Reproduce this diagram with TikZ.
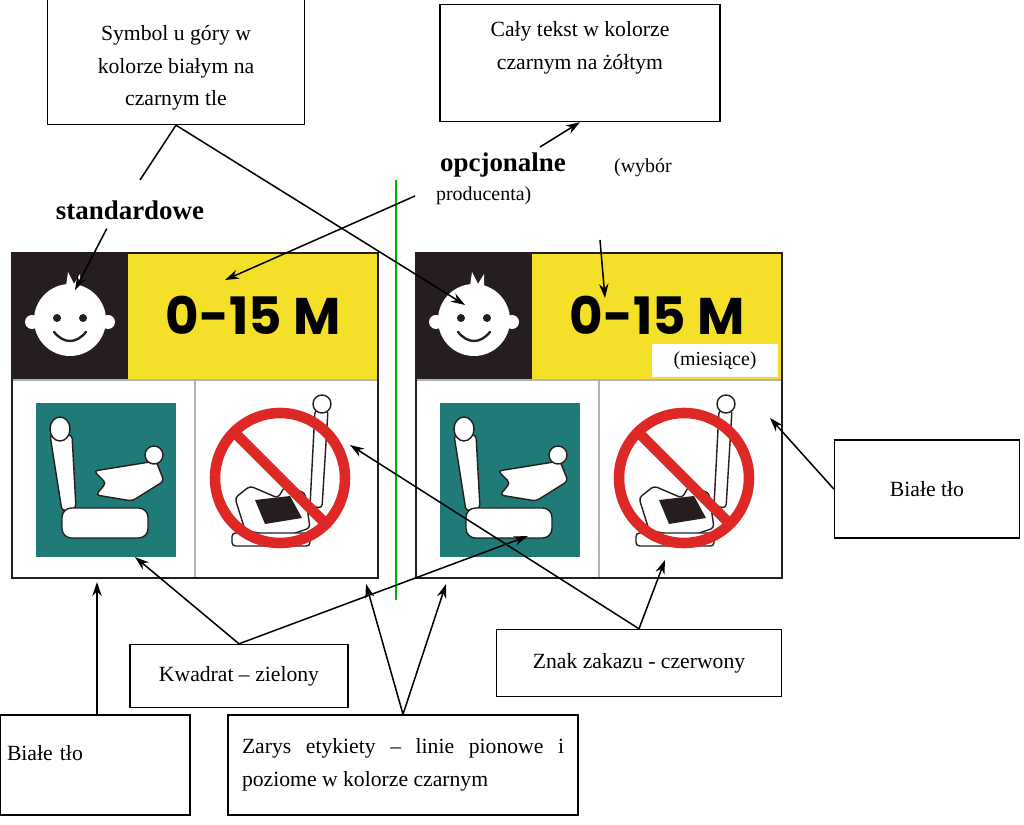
\documentclass[tikz,border=0pt]{standalone}
\usepackage{fontspec}
\setmainfont{Liberation Serif}
\newfontfamily\tagfont{Poppins}
\usetikzlibrary{arrows.meta}
\definecolor{tagyellow}{RGB}{244,224,40}
\definecolor{tagteal}{RGB}{32,122,120}
\definecolor{tagred}{RGB}{222,40,38}
\definecolor{tagblack}{RGB}{38,30,30}
\tikzset{
  infobox/.style={draw, line width=1.2pt, fill=white, inner sep=0pt, font=\fontsize{18.5}{28}\selectfont, align=center},
  pointer/.style={line width=1.3pt, -{Stealth[length=12pt,width=8pt]}},
  plainline/.style={line width=1.3pt},
  cell/.style={draw=gray!60, line width=1pt},
  seat/.style={draw=tagblack, fill=white, line width=1.2pt, rounded corners=3pt}
}
\newcommand{\babyface}[2]{%
  \fill[white] (#1,#2) circle (36);
  \fill[white] (#1-38,#2+2) circle (7) (#1+38,#2+2) circle (7);
  \fill[white] (#1-4,#2-34) -- (#1-2,#2-48) -- (#1+4,#2-36) -- (#1+10,#2-46) -- (#1+10,#2-32) -- cycle;
  \fill[tagblack] (#1-13,#2-2) circle (4) (#1+13,#2-2) circle (4);
  \draw[tagblack, line width=2pt, line cap=round] (#1-16,#2+12) .. controls (#1-6,#2+24) and (#1+6,#2+24) .. (#1+16,#2+12);}
\newcommand{\seaticon}[2]{%
  \draw[seat] (#1+14,#2+32) -- (#1+36,#2+32) -- (#1+40,#2+105) -- (#1+26,#2+108) -- cycle;
  \draw[seat, rounded corners=8pt] (#1+26,#2+105) rectangle (#1+112,#2+135);
  \draw[seat] (#1+24,#2+26) ellipse (10 and 12);
  \draw[seat] (#1+58,#2+68) -- (#1+120,#2+58) -- (#1+128,#2+78) -- (#1+96,#2+98) -- (#1+60,#2+92) -- (#1+70,#2+80) -- cycle;
  \draw[seat] (#1+118,#2+52) circle (9);}
\newcommand{\banicon}[2]{%
  \draw[seat, fill=none] (#1+25,#2+60) -- (#1+40,#2+48) -- (#1+68,#2+60) -- (#1+75,#2+48) -- (#1+95,#2+55) -- (#1+100,#2+90) -- (#1+70,#2+100) -- (#1+35,#2+92) -- cycle;
  \fill[tagblack] (#1+45,#2+62) -- (#1+80,#2+58) -- (#1+92,#2+80) -- (#1+55,#2+86) -- cycle;
  \draw[seat] (#1+105,#2+-28) -- (#1+118,#2-28) -- (#1+112,#2+70) -- (#1+100,#2+68) -- cycle;
  \draw[seat] (#1+112,#2-34) circle (9);
  \draw[seat] (#1+22,#2+95) rectangle (#1+100,#2+108);
  \draw[tagred, line width=9pt] (#1,#2) ++(70,40) circle (65);
  \draw[tagred, line width=9pt] (#1+24,#2-6) -- (#1+116,#2+86);}
\newcommand{\childlabel}[1]{%
  \fill[tagblack] (#1,253) rectangle (#1+116,380);
  \fill[tagyellow] (#1+116,253) rectangle (#1+366,380);
  \draw[cell] (#1,380) -- (#1+366,380) (#1+183,380) -- (#1+183,578);
  \fill[tagteal] (#1+24,403) rectangle (#1+164,557);
  \seaticon{#1+24}{403}
  \banicon{#1+198}{438}
  \draw[tagblack, line width=2.5pt] (#1,253) rectangle (#1+366,578);
  \babyface{#1+58}{320}
  \node[font=\tagfont\bfseries\fontsize{44}{44}\selectfont] at (#1+241,315) {0-15 M};}
\begin{document}
\begin{tikzpicture}[x=0.03cm, y=-0.03cm]
\useasboundingbox (0,0) rectangle (1024,825);
\fill[white] (0,0) rectangle (1024,825);
% Labels
\childlabel{12}
\childlabel{416}
\draw[green!70!black, line width=1.5pt] (396,180) -- (396,600);
\node[fill=white, font=\fontsize{17}{19}\selectfont, minimum width=126*0.03cm, minimum height=33*0.03cm, inner sep=0pt] (months) at (715,361) {(miesiące)};
% Text boxes
\node[infobox, minimum width=257*0.03cm, minimum height=125*0.03cm] (symbolbox) at (176,62) {};
\node[font=\fontsize{18.5}{28}\selectfont, align=center] (symboltext) at (176,68) {Symbol u góry w\\kolorze białym na\\czarnym tle};
\node[infobox, minimum width=280*0.03cm, minimum height=117*0.03cm, text depth=30pt] (yellowbox) at (580,63) {Cały tekst w kolorze\\czarnym na żółtym};
\node[infobox, minimum width=185*0.03cm, minimum height=98*0.03cm] (whiteright) at (927,489) {Białe tło};
\node[infobox, minimum width=218*0.03cm, minimum height=63*0.03cm] (squarebox) at (239,676) {Kwadrat – zielony};
\node[infobox, minimum width=285*0.03cm, minimum height=67*0.03cm] (banbox) at (639,663) {Znak zakazu - czerwony};
\node[infobox, minimum width=190*0.03cm, minimum height=100*0.03cm, text width=176*0.03cm, align=left, text depth=20pt] (whiteleft) at (95,765) {Białe tło};
\node[infobox, minimum width=350*0.03cm, minimum height=100*0.03cm, text width=322*0.03cm, align=justify] (outlinebox) at (403,765) {Zarys etykiety – linie pionowe i poziome w kolorze czarnym};
% Headings
\node[font=\bfseries\fontsize{23}{25}\selectfont] (standard) at (130,210) {standardowe};
\node[font=\bfseries\fontsize{23}{25}\selectfont] (optional) at (503,165) {opcjonalne};
\node[font=\fontsize{17}{19}\selectfont, anchor=west] (choice) at (610,168) {(wybór};
\node[font=\fontsize{17}{19}\selectfont, anchor=west] (maker) at (432,196) {producenta)};
% Targets
\coordinate (faceleft) at (75,290);
\coordinate (faceright) at (465,305);
\coordinate (numleft) at (225,280);
\coordinate (numright) at (605,298);
\coordinate (cellright) at (770,418);
\coordinate (greenleft) at (135,557);
\coordinate (greenright) at (528,536);
\coordinate (banright) at (665,560);
\coordinate (banleft) at (350,445);
\coordinate (edgeleft) at (97,582);
\coordinate (edgemid) at (366,584);
\coordinate (edgeright) at (446,584);
% Connectors
\draw[plainline] (symbolbox.south) -- (140,180);
\draw[pointer] (symbolbox.south) -- (faceright);
\draw[pointer] (540,147) -- (yellowbox.south);
\draw[pointer] (415,196) -- (numleft);
\draw[pointer] (600,240) -- (numright);
\draw[pointer] (standard.south west) ++(55,5) -- (faceleft);
\draw[pointer] (whiteright.west) -- (cellright);
\draw[pointer] (squarebox.north) -- (greenleft);
\draw[pointer] (squarebox.north) -- (greenright);
\draw[pointer] (banbox.north) -- (banright);
\draw[pointer] (banbox.north) -- (banleft);
\draw[pointer] (whiteleft.north) ++(2,0) -- (edgeleft);
\draw[pointer] (outlinebox.north) -- (edgemid);
\draw[pointer] (outlinebox.north) -- (edgeright);
\end{tikzpicture}
\end{document}
